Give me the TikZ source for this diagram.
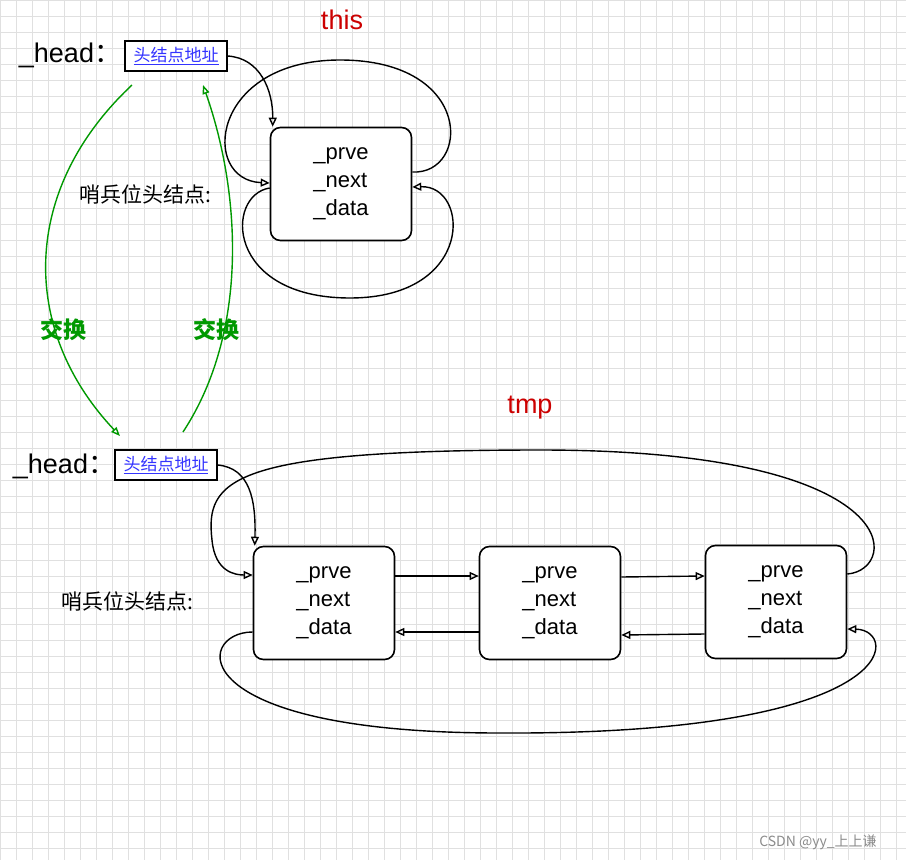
\documentclass[tikz,border=0pt]{standalone}
\usepackage{fontspec}
\setmainfont{Liberation Sans}
\newfontfamily\cjk{Noto Sans CJK SC}
\usetikzlibrary{arrows.meta}
\begin{document}
\begin{tikzpicture}[x=1pt,y=-1pt,
  nd/.style={draw,line width=1.6pt,rounded corners=10pt,fill=white,minimum width=141pt,minimum height=113pt,font=\fontsize{22}{28}\selectfont,align=left},
  ad/.style={draw,line width=1.3pt,fill=white,font=\cjk\fontsize{17}{18}\selectfont,text=blue!80,minimum width=102pt,minimum height=30pt,inner sep=1pt},
  lnk/.style={line width=1.4pt,-{Triangle[open,length=9pt,width=8pt]}},
  sw/.style={green!60!black,line width=1.4pt,-{Triangle[open,length=9pt,width=7pt]}},
  lbl/.style={font=\fontsize{27}{28}\selectfont},
  sl/.style={font=\cjk\fontsize{21}{22}\selectfont}]
\useasboundingbox (0,0) rectangle (906,860);
\fill[white] (0,0) rectangle (906,860);
\foreach \i in {0,16,...,906} \draw[black!12] (\i,0) -- (\i,860);
\foreach \j in {0,16,...,860} \draw[black!12] (0,\j) -- (906,\j);
% top
\node[font=\fontsize{27}{28}\selectfont,text=red!80!black] (this) at (342,20) {this};
\node[lbl] (h1) at (70,55) {\_head\cjk{：}};
\node[ad] (a1) at (176,56) {\underline{头结点地址}};
\node[nd] (n0) at (341,184) {\_prve\\\_next\\\_data};
\node[sl] (s1) at (145,194) {哨兵位头结点:};
\draw[lnk] (a1.east) .. controls (260,58) and (273,90) .. ([xshift=3pt]n0.north west);
\draw[lnk] ([yshift=12pt]n0.east) .. controls (470,175) and (475,60) .. (340,60) .. controls (210,60) and (200,180) .. ([yshift=1pt]n0.west);
\draw[lnk] ([yshift=-4pt]n0.west) .. controls (225,195) and (225,298) .. (350,298) .. controls (475,298) and (470,185) .. ([yshift=-3pt]n0.east);
% swap
\coordinate (g1) at (132,85);
\coordinate (g2) at (120,436);
\coordinate (g3) at (183,432);
\coordinate (g4) at (203,85);
\draw[sw] (g1) .. controls (20,190) and (20,330) .. (g2);
\draw[sw] (g3) .. controls (250,330) and (240,190) .. (g4);
\node[font=\cjk\bfseries\fontsize{23}{24}\selectfont,text=green!60!black] (x1) at (63,330) {交换};
\node[font=\cjk\bfseries\fontsize{23}{24}\selectfont,text=green!60!black] (x2) at (216,330) {交换};
% bottom
\node[font=\fontsize{27}{28}\selectfont,text=red!80!black] (tmp) at (530,408) {tmp};
\node[lbl] (h2) at (64,466) {\_head\cjk{：}};
\node[ad] (a2) at (166,465) {\underline{头结点地址}};
\node[sl] (s2) at (127,601) {哨兵位头结点:};
\node[nd] (n1) at (324,603) {\_prve\\\_next\\\_data};
\node[nd] (n2) at (550,603) {\_prve\\\_next\\\_data};
\node[nd] (n3) at (776,602) {\_prve\\\_next\\\_data};
\draw[lnk] ([yshift=27pt]n1.east) -- ([yshift=27pt]n2.west);
\draw[lnk] ([yshift=26pt]n2.east) -- ([yshift=26pt]n3.west);
\draw[lnk] ([yshift=-32pt]n3.west) -- ([yshift=-32pt]n2.east);
\draw[lnk] ([yshift=-29pt]n2.west) -- ([yshift=-29pt]n1.east);
\draw[lnk] (a2.east) .. controls (250,468) and (256,500) .. ([xshift=2pt]n1.north west);
\draw[lnk] ([yshift=28pt]n3.east) .. controls (900,570) and (910,450) .. (540,450) .. controls (230,450) and (205,480) .. (212,540) .. controls (215,572) and (235,575) .. ([yshift=28pt]n1.west);
\draw[lnk] ([yshift=-29pt]n1.west) .. controls (195,632) and (180,733) .. (500,733) .. controls (905,735) and (900,630) .. ([yshift=-27pt]n3.east);
\node[font=\cjk\fontsize{14}{15}\selectfont,text=black!45] (wm) at (818,842) {CSDN @yy\_上上谦};
\end{tikzpicture}
\end{document}
